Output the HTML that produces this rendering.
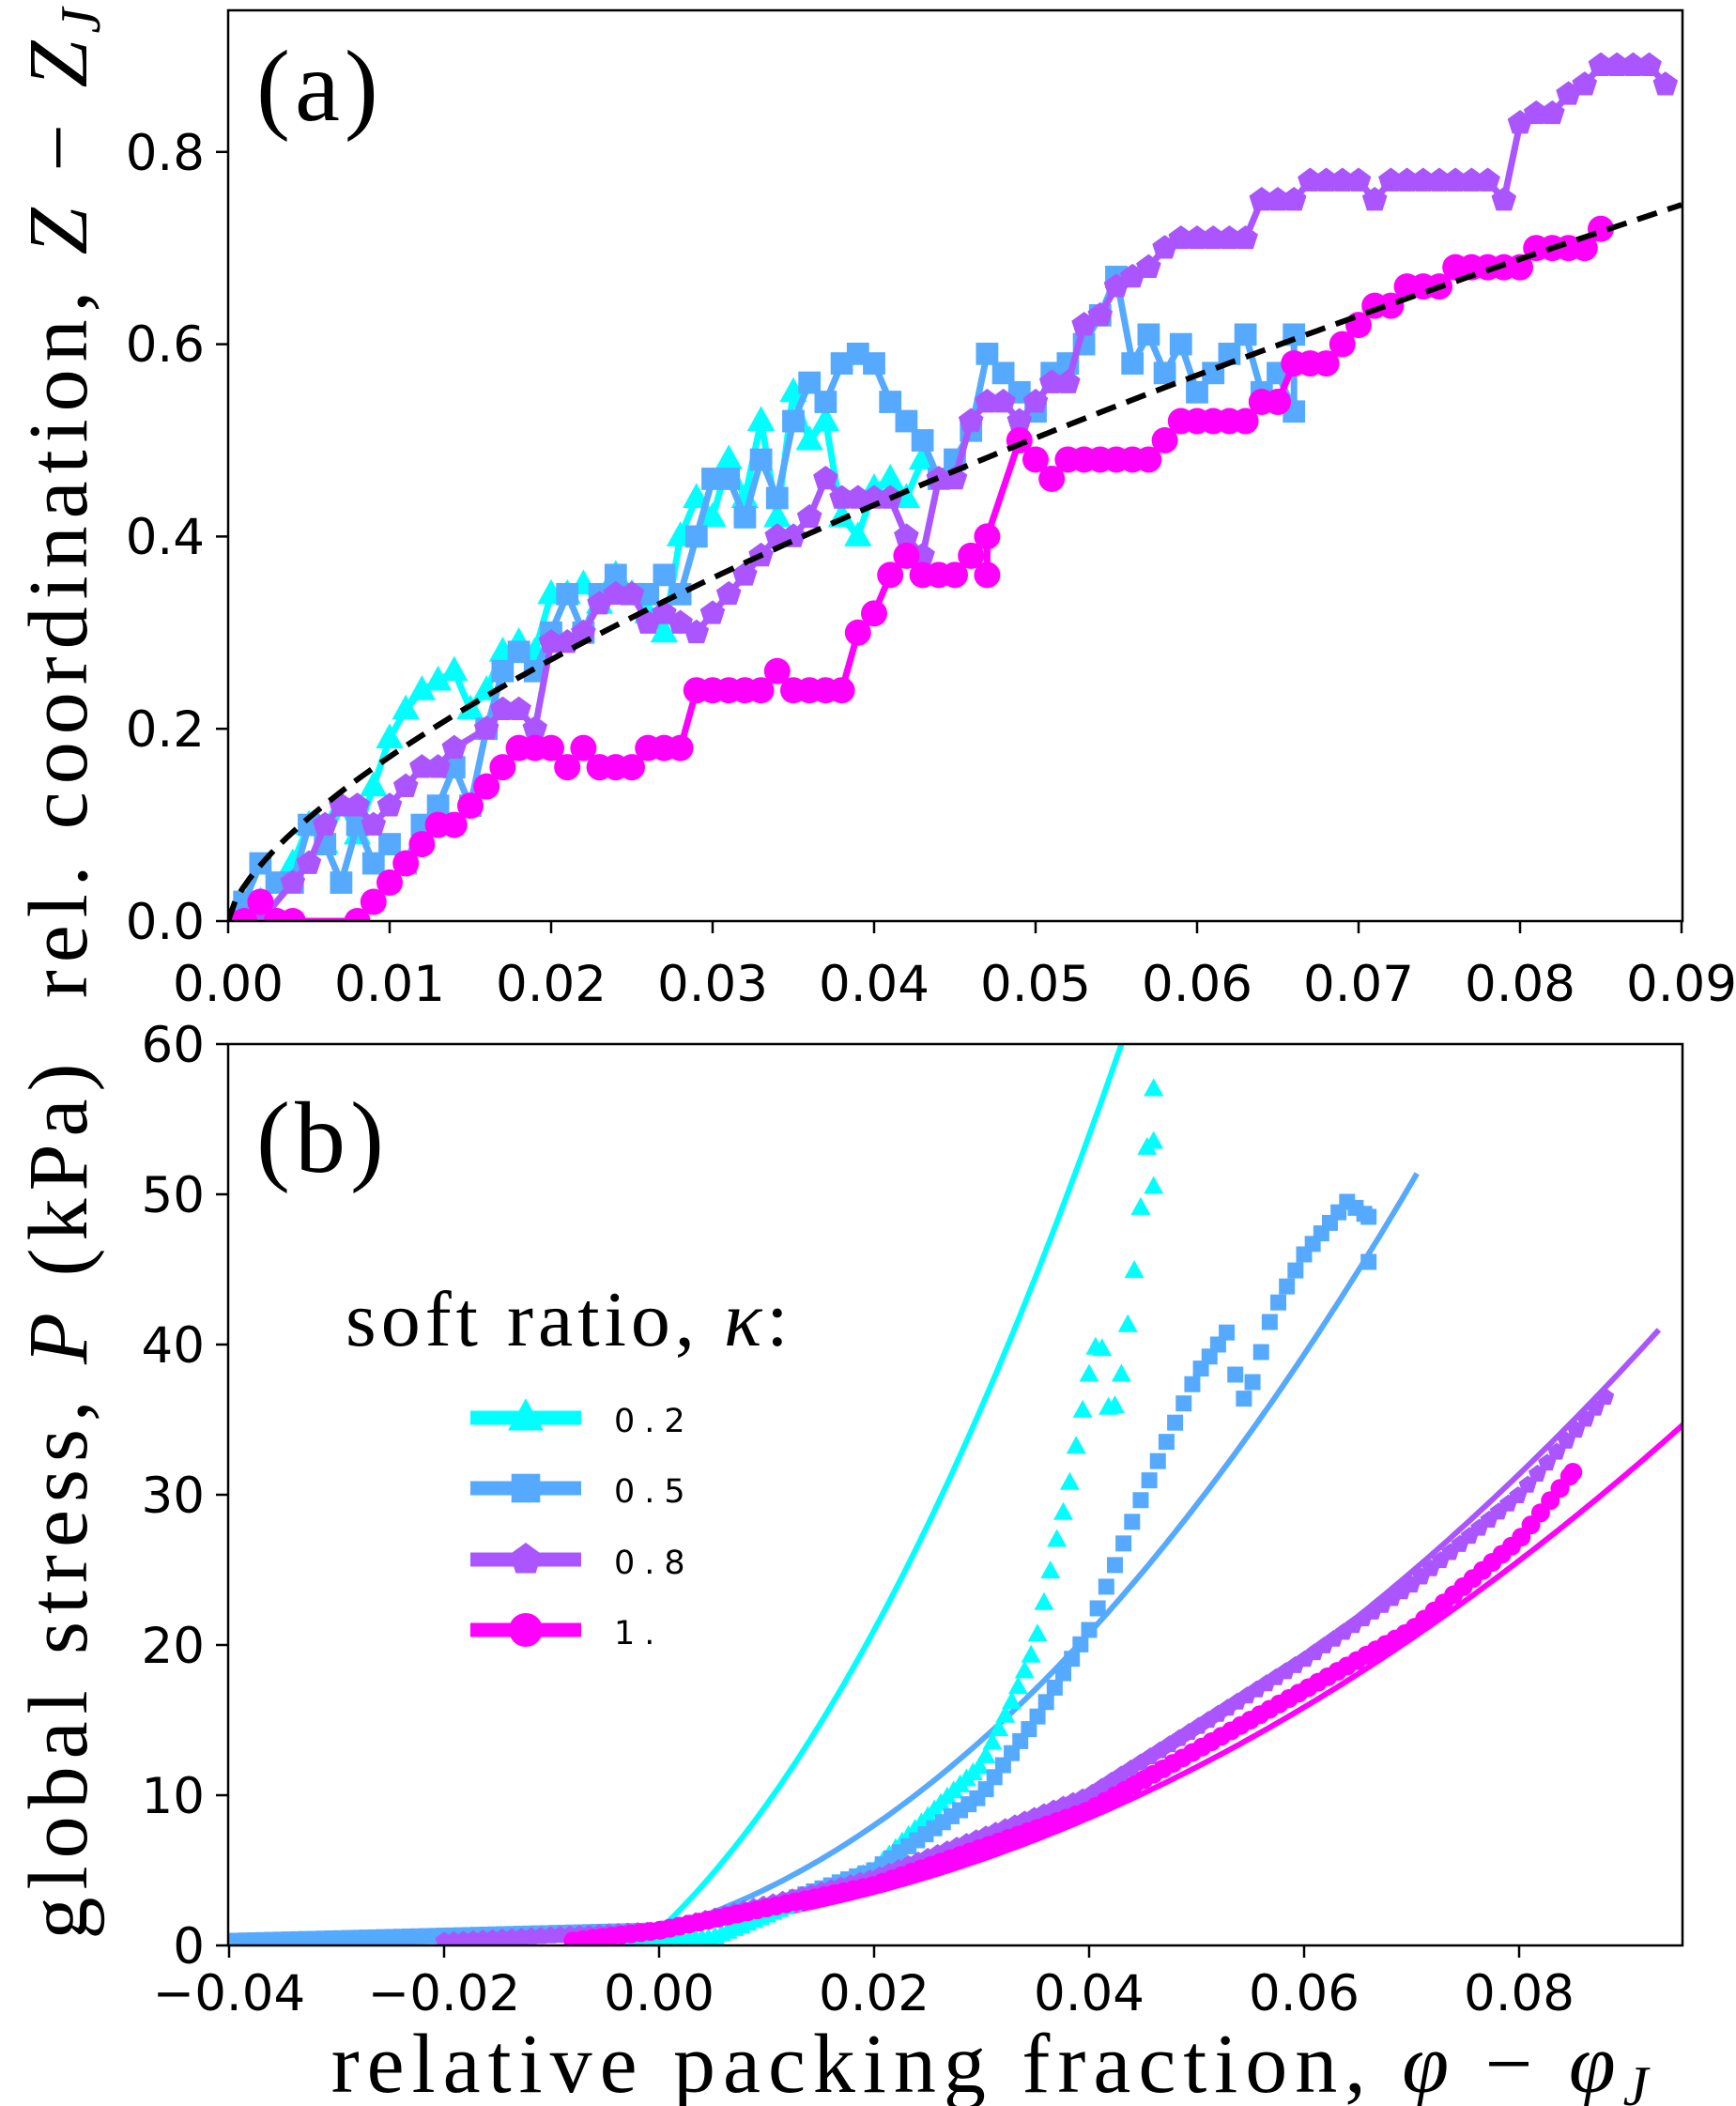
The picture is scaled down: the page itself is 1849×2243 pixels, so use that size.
<!DOCTYPE html>
<html><head><meta charset="utf-8"><style>
html,body{margin:0;padding:0;background:#fff;}
svg{display:block;}
.tk{font-family:"DejaVu Sans",sans-serif;font-size:53px;fill:#000;}
.sf{font-family:"Liberation Serif","DejaVu Serif",serif;fill:#000;}
</style></head><body>
<svg id="s" width="1849" height="2243" viewBox="0 0 1849 2243" xmlns="http://www.w3.org/2000/svg">
<rect width="1849" height="2243" fill="#fff"/>
<defs>
<clipPath id="ca"><rect x="243" y="11" width="1549" height="970"/></clipPath>
<clipPath id="cb"><rect x="243" y="1112" width="1549" height="960"/></clipPath>
</defs>
<g id="ga" clip-path="url(#ca)"></g>
<g id="gb" clip-path="url(#cb)"></g>
<rect x="243" y="11" width="1549" height="970" fill="none" stroke="#000" stroke-width="2.5"/>
<rect x="243" y="1112" width="1549" height="960" fill="none" stroke="#000" stroke-width="2.5"/>
<g id="ticks" stroke="#000" stroke-width="2.5"></g>
<g class="tk" text-anchor="middle">
<text x="243" y="1066">0.00</text><text x="415" y="1066">0.01</text><text x="587" y="1066">0.02</text>
<text x="759" y="1066">0.03</text><text x="931" y="1066">0.04</text><text x="1103" y="1066">0.05</text>
<text x="1275" y="1066">0.06</text><text x="1447" y="1066">0.07</text><text x="1619" y="1066">0.08</text>
<text x="1791" y="1066">0.09</text>
</g>
<g class="tk" text-anchor="end">
<text x="218" y="1000">0.0</text><text x="218" y="795">0.2</text><text x="218" y="590">0.4</text>
<text x="218" y="385">0.6</text><text x="218" y="181">0.8</text>
</g>
<g class="tk" text-anchor="middle">
<text x="244" y="2141">−0.04</text><text x="473" y="2141">−0.02</text><text x="702" y="2141">0.00</text>
<text x="931" y="2141">0.02</text><text x="1160" y="2141">0.04</text><text x="1389" y="2141">0.06</text>
<text x="1618" y="2141">0.08</text>
</g>
<g class="tk" text-anchor="end">
<text x="218" y="2091">0</text><text x="218" y="1931">10</text><text x="218" y="1771">20</text>
<text x="218" y="1611">30</text><text x="218" y="1451">40</text><text x="218" y="1291">50</text>
<text x="218" y="1131">60</text>
</g>
<text class="sf" x="273" y="128" font-size="108" letter-spacing="5">(a)</text>
<text class="sf" x="273" y="1248" font-size="108" letter-spacing="5">(b)</text>
<text class="sf" font-size="90" letter-spacing="8" text-anchor="middle" transform="translate(92,532) rotate(-90)">rel. coordination, <tspan font-style="italic">Z</tspan> − <tspan font-style="italic">Z</tspan><tspan font-style="italic" font-size="60" dy="14">J</tspan></text>
<text class="sf" font-size="90" letter-spacing="8" text-anchor="middle" transform="translate(92,1595) rotate(-90)">global stress, <tspan font-style="italic">P</tspan> (kPa)</text>
<text class="sf" font-size="90" letter-spacing="8" x="1058" y="2228" text-anchor="middle">relative packing fraction, <tspan font-style="italic">φ</tspan> − <tspan font-style="italic">φ</tspan><tspan font-style="italic" font-size="60" dy="14">J</tspan></text>
<text class="sf" x="368" y="1433" font-size="84" letter-spacing="5">soft ratio, <tspan font-style="italic">κ</tspan>:</text>
<g id="leg"></g>
<g font-family="DejaVu Sans,sans-serif" font-size="35" letter-spacing="10">
<text x="654" y="1525">0.2</text><text x="654" y="1600">0.5</text><text x="654" y="1676">0.8</text><text x="654" y="1751">1.</text>
</g>
</svg>
<script>
var NS="http://www.w3.org/2000/svg";
function el(p,t,a){var e=document.createElementNS(NS,t);for(var k in a)e.setAttribute(k,a[k]);p.appendChild(e);return e;}
var C={c:"#00ffff",b:"#55aaff",p:"#aa55ff",m:"#ff00ff"};
function marker(g,type,x,y,r,col){
 if(type=="c")el(g,"polygon",{points:[x,y-r*1.15,x-r*1.05,y+r*0.75,x+r*1.05,y+r*0.75].join(","),fill:col});
 else if(type=="b")el(g,"rect",{x:x-r*0.85,y:y-r*0.85,width:r*1.7,height:r*1.7,fill:col});
 else if(type=="p"){var pts=[];for(var i=0;i<5;i++){var a=-Math.PI/2+i*2*Math.PI/5;pts.push(x+r*Math.cos(a),y+r*Math.sin(a));}el(g,"polygon",{points:pts.join(","),fill:col});}
 else el(g,"circle",{cx:x,cy:y,r:r,fill:col});
}
var ax=function(x){return 243+x*17200;}, ay=function(y){return 981-y*1024;};
var A={
c:[[0,0],[.002,.02],[.004,.06],[.005,.10],[.006,.08],[.007,.12],[.008,.09],[.009,.14],[.010,.19],[.011,.22],[.012,.24],[.013,.25],[.014,.26],[.015,.22],[.016,.24],[.017,.28],[.018,.29],[.019,.28],[.020,.34],[.021,.34],[.022,.35],[.023,.33],[.024,.36],[.025,.34],[.026,.32],[.027,.30],[.028,.40],[.029,.44],[.030,.42],[.031,.48],[.032,.44],[.033,.52],[.034,.42],[.035,.55],[.036,.50],[.037,.52],[.038,.42],[.039,.40],[.040,.45],[.041,.46],[.042,.44],[.043,.48]],
b:[[0,0],[.001,.02],[.002,.06],[.003,.04],[.004,.04],[.005,.10],[.006,.08],[.007,.04],[.008,.10],[.009,.06],[.010,.08],[.011,.06],[.012,.10],[.013,.12],[.014,.16],[.015,.12],[.016,.20],[.017,.26],[.018,.28],[.019,.26],[.020,.30],[.021,.34],[.022,.30],[.023,.34],[.024,.36],[.025,.34],[.026,.34],[.027,.36],[.028,.34],[.029,.40],[.030,.46],[.031,.46],[.032,.42],[.033,.48],[.034,.44],[.035,.52],[.036,.56],[.037,.54],[.038,.58],[.039,.59],[.040,.58],[.041,.54],[.042,.52],[.043,.50],[.044,.46],[.045,.48],[.046,.51],[.047,.59],[.048,.57],[.049,.55],[.050,.53],[.051,.57],[.052,.58],[.053,.60],[.054,.63],[.055,.67],[.056,.58],[.057,.61],[.058,.57],[.059,.60],[.060,.55],[.061,.57],[.062,.59],[.063,.61],[.064,.55],[.065,.57],[.066,.53],[.066,.61]],
p:[[0,0],[.002,0],[.004,.04],[.005,.06],[.006,.10],[.007,.12],[.008,.12],[.009,.10],[.010,.12],[.011,.14],[.012,.16],[.013,.16],[.014,.18],[.016,.20],[.017,.22],[.018,.22],[.019,.20],[.020,.29],[.021,.29],[.022,.30],[.023,.33],[.024,.34],[.025,.34],[.026,.31],[.027,.32],[.028,.31],[.029,.30],[.030,.32],[.031,.34],[.032,.36],[.033,.38],[.034,.40],[.035,.40],[.036,.42],[.037,.46],[.038,.44],[.039,.44],[.040,.44],[.041,.44],[.042,.40],[.043,.38],[.044,.46],[.045,.46],[.046,.52],[.047,.54],[.048,.54],[.049,.52],[.050,.54],[.051,.56],[.052,.56],[.053,.62],[.054,.63],[.055,.66],[.056,.67],[.057,.68],[.058,.70],[.059,.71],[.060,.71],[.061,.71],[.062,.71],[.063,.71],[.064,.75],[.065,.75],[.066,.75],[.067,.77],[.068,.77],[.069,.77],[.070,.77],[.071,.75],[.072,.77],[.073,.77],[.074,.77],[.075,.77],[.076,.77],[.077,.77],[.078,.77],[.079,.75],[.080,.83],[.081,.84],[.082,.84],[.083,.86],[.084,.87],[.085,.89],[.086,.89],[.087,.89],[.088,.89],[.089,.87]],
m:[[0,0],[.001,0],[.002,.02],[.003,0],[.004,0],[.008,0],[.009,.02],[.010,.04],[.011,.06],[.012,.08],[.013,.10],[.014,.10],[.015,.12],[.016,.14],[.017,.16],[.018,.18],[.019,.18],[.020,.18],[.021,.16],[.022,.18],[.023,.16],[.024,.16],[.025,.16],[.026,.18],[.027,.18],[.028,.18],[.029,.24],[.030,.24],[.031,.24],[.032,.24],[.033,.24],[.034,.26],[.035,.24],[.036,.24],[.037,.24],[.038,.24],[.039,.30],[.040,.32],[.041,.36],[.042,.38],[.043,.36],[.044,.36],[.045,.36],[.046,.38],[.047,.36],[.047,.40],[.049,.50],[.050,.48],[.051,.46],[.052,.48],[.053,.48],[.054,.48],[.055,.48],[.056,.48],[.057,.48],[.058,.50],[.059,.52],[.060,.52],[.061,.52],[.062,.52],[.063,.52],[.064,.54],[.065,.54],[.066,.58],[.067,.58],[.068,.58],[.069,.60],[.070,.62],[.071,.64],[.072,.64],[.073,.66],[.074,.66],[.075,.66],[.076,.68],[.077,.68],[.078,.68],[.079,.68],[.080,.68],[.081,.70],[.082,.70],[.083,.70],[.084,.70],[.085,.72]]};
var ga=document.getElementById("ga");
["c","b","p","m"].forEach(function(k){
 var d=A[k].map(function(p){return ax(p[0]).toFixed(1)+","+ay(p[1]).toFixed(1);}).join(" ");
 el(ga,"polyline",{points:d,fill:"none",stroke:C[k],"stroke-width":7,"stroke-linejoin":"round"});
 A[k].forEach(function(p){marker(ga,k,ax(p[0]),ay(p[1]),14,C[k]);});
});
var dp=[];for(var i=0;i<=200;i++){var x=0.09*i/200;dp.push(ax(x).toFixed(1)+","+ay(0.745*Math.pow(x/0.09,0.67)).toFixed(1));}
el(ga,"polyline",{points:dp.join(" "),fill:"none",stroke:"#000","stroke-width":6,"stroke-dasharray":"22,12"});
var bx=function(x){return 702+x*11450;}, by=function(y){return 2072-y*16;};
var gb=document.getElementById("gb");
function fit(c,d,x){return x>=0?c*x*x+d*x+1:Math.max(0.3,1+40*x);}
var F={c:[16178,676,0.045],b:[7222,205.6,0.071],p:[3870,70,0.0935],m:[3003,67.4,0.096]};
function interp(pts,x){for(var i=0;i<pts.length-1;i++){if(x>=pts[i][0]&&x<=pts[i+1][0]){var t=(x-pts[i][0])/(pts[i+1][0]-pts[i][0]||1);return pts[i][1]+t*(pts[i+1][1]-pts[i][1]);}}return pts[pts.length-1][1];}
var S={
c:[[-0.005,0],[0.005,0.5],[0.01,2],[0.02,5],[0.027,10],[0.03,12],[0.033,16.5],[0.035,20],[0.037,27],[0.038,30],[0.039,34],[0.040,38],[0.041,41],[0.042,34.5],[0.043,38],[0.044,43.5],[0.045,50.5],[0.046,57]],
b:[[-0.04,0.3],[0,1],[0.01,2.5],[0.02,5],[0.03,10],[0.035,15],[0.04,21],[0.045,30],[0.05,38],[0.053,41],[0.054,36],[0.055,37],[0.057,42],[0.06,46],[0.064,49.5],[0.066,48.5]],
p:[[-0.02,0.3],[0,1],[0.02,4.5],[0.04,10],[0.06,19],[0.07,24],[0.08,30],[0.088,36.5]],
m:[[-0.008,0.3],[0,1],[0.02,4],[0.04,9],[0.06,17],[0.07,21],[0.08,27],[0.085,31.5]]};
var step={c:0.0006,b:0.0008,p:0.0009,m:0.0009};
["c","b","p","m"].forEach(function(k){
 var f=F[k],pl=[];
 for(var x=-0.04;x<=f[2];x+=0.0005)pl.push(bx(x).toFixed(1)+","+by(fit(f[0],f[1],x)).toFixed(1));
 el(gb,"polyline",{points:pl.join(" "),fill:"none",stroke:C[k],"stroke-width":6});
});
["c","b","p","m"].forEach(function(k){
 var pts=S[k],x0=pts[0][0],x1=pts[pts.length-1][0];
 for(var x=x0;x<=x1+1e-9;x+=step[k]){marker(gb,k,bx(x),by(interp(pts,x)),10,C[k]);}
 marker(gb,k,bx(x1),by(pts[pts.length-1][1]),10,C[k]);
 if(k=="c"){marker(gb,"c",bx(0.046),by(53.5),10,C.c);marker(gb,"c",bx(0.046),by(50.5),10,C.c);}
 if(k=="b"){marker(gb,"b",bx(0.066),by(45.5),10,C.b);}
});
var tg=document.getElementById("ticks");
for(var i=0;i<=9;i++){var X=243+i*172;el(tg,"line",{x1:X,y1:981,x2:X,y2:994});}
for(var i=0;i<=4;i++){var Y=981-i*204.8;el(tg,"line",{x1:230,y1:Y,x2:243,y2:Y});}
for(var i=0;i<=6;i++){var X=244+i*229;el(tg,"line",{x1:X,y1:2072,x2:X,y2:2085});}
for(var i=0;i<=6;i++){var Y=2072-i*160;el(tg,"line",{x1:230,y1:Y,x2:243,y2:Y});}
var lg=document.getElementById("leg"),ys=[1510,1585,1661,1736];
["c","b","p","m"].forEach(function(k,i){el(lg,"line",{x1:501,y1:ys[i],x2:619,y2:ys[i],stroke:C[k],"stroke-width":15});marker(lg,k,560,ys[i],18,C[k]);});
</script>
</body></html>
